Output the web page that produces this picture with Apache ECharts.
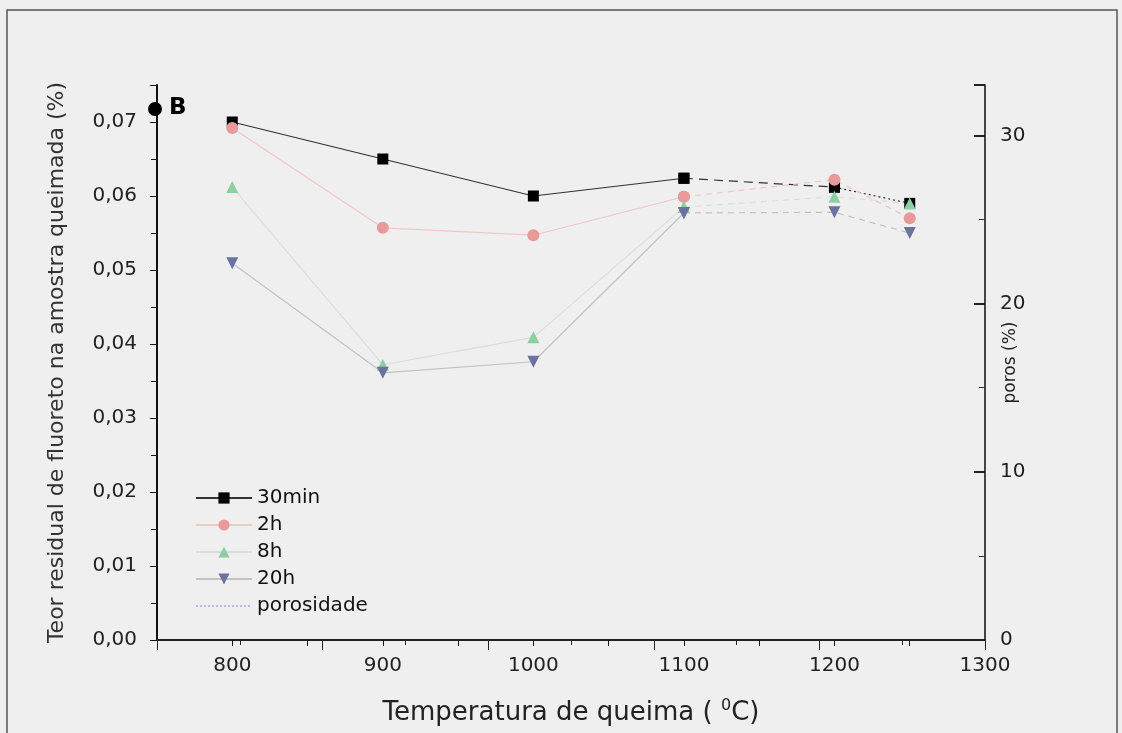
<!DOCTYPE html>
<html>
<head>
<meta charset="utf-8">
<script src="https://cdn.jsdelivr.net/npm/echarts@6/dist/echarts.min.js"></script>
<style>
  html, body { margin: 0; padding: 0; background: #efefef; }
  #chart { width: 1122px; height: 733px; }
</style>
</head>
<body>
<div id="chart"></div>
<script>
// temperatura de queima (°C)
const temps = [800, 900, 1000, 1100, 1200, 1250];
// teor residual de fluoreto (%)
const min30 = [0.0700, 0.0650, 0.0600, 0.0624, 0.0612, 0.0590];
const h2 = [0.0692, 0.0557, 0.0547, 0.0599, 0.0622, 0.0570];
const h8 = [0.0612, 0.0372, 0.0409, 0.0585, 0.0599, 0.0590];
const h20 = [0.0509, 0.0361, 0.0376, 0.0577, 0.0578, 0.0550];
// porosidade (%) - curva nao visivel na figura
const porosidade = [];

const xLabels = [800, 900, 1000, 1100, 1200, 1300];
const leftTicks = [0, 0.01, 0.02, 0.03, 0.04, 0.05, 0.06, 0.07];
const rightTicks = [0, 10, 20, 30];

const FONT = 'DejaVu Sans, Liberation Sans, sans-serif';

function pairs(vals, from, to) {
  return temps.slice(from, to).map((t, i) => [t, vals[from + i]]);
}

// cada curva e feita de trechos (cheio ate 1100, tracejado depois)
function curve(name, vals, sym, rot, markColor, lineColor, segs) {
  return segs.map(s => ({
    name: name,
    type: 'line',
    symbol: sym,
    symbolSize: sym === 'rect' ? 11 : 12,
    symbolRotate: rot,
    itemStyle: { color: markColor },
    lineStyle: { color: lineColor, width: 1.2, type: s[2] },
    data: pairs(vals, s[0], s[1]),
    z: 3
  }));
}

const blackSegs = [[0, 4, 'solid'], [3, 5, [9, 6]], [4, 6, [2, 3]]];
const faintSegs = [[0, 4, 'solid'], [3, 6, [6, 5]]];

let chart = echarts.init(document.getElementById('chart'));

let option = {
  backgroundColor: '#efefef',
  animation: false,
  textStyle: { fontFamily: FONT },
  grid: { left: 157, right: 137, top: 85, bottom: 92 },
  legend: {
    orient: 'vertical',
    left: 190,
    top: 483,
    itemGap: 7,
    itemWidth: 56,
    itemHeight: 14,
    textStyle: { fontSize: 20, lineHeight: 20, color: '#111', fontFamily: FONT },
    data: ['30min', '2h', '8h', '20h', { name: 'porosidade', itemStyle: { opacity: 0 } }]
  },
  xAxis: [
    {
      type: 'value',
      min: 750,
      max: 1300,
      interval: 50,
      name: 'Temperatura de queima ( {sup|0}C)',
      nameLocation: 'middle',
      nameGap: 58,
      nameMoveOverlap: false,
      nameTextStyle: {
        fontSize: 26, color: '#222', fontFamily: FONT, lineHeight: 30,
        rich: {
          sup: { fontSize: 16, color: '#222', fontFamily: FONT, verticalAlign: 'top', lineHeight: 30, padding: [0, 0, 12, 0] }
        }
      },
      axisLine: { lineStyle: { color: '#111', width: 2 } },
      axisTick: { inside: false, length: 6, lineStyle: { color: '#111' } },
      axisLabel: {
        fontSize: 20, color: '#222', margin: 16, showMinLabel: true, showMaxLabel: true,
        formatter: v => (xLabels.indexOf(v) >= 0 ? String(v) : '')
      },
      splitLine: { show: false }
    },
    {
      // moldura superior com marcas proprias
      type: 'value',
      position: 'top',
      min: 0,
      max: 5,
      interval: 1,
      axisLine: { show: true, lineStyle: { color: '#222', width: 2 } },
      axisTick: { inside: true, length: 10, lineStyle: { color: '#222' } },
      minorTick: { show: true, splitNumber: 2, length: 5, lineStyle: { color: '#222' } },
      axisLabel: { show: false },
      splitLine: { show: false }
    }
  ],
  yAxis: [
    {
      type: 'value',
      min: 0,
      max: 0.075,
      interval: 0.01,
      name: 'Teor residual de fluoreto na amostra queimada (%)',
      nameLocation: 'middle',
      nameGap: 89,
      nameRotate: 90,
      nameMoveOverlap: false,
      nameTextStyle: { fontSize: 22, color: '#333', fontFamily: FONT },
      axisLine: { show: true, lineStyle: { color: '#111', width: 2 } },
      axisTick: { inside: false, length: 7, lineStyle: { color: '#111' } },
      minorTick: { show: true, splitNumber: 2, length: 6, lineStyle: { color: '#111' } },
      axisLabel: {
        fontSize: 20, color: '#222', margin: 20, showMaxLabel: false,
        formatter: v => (leftTicks.some(t => Math.abs(t - v) < 1e-9) ? v.toFixed(2).replace('.', ',') : '')
      },
      splitLine: { show: false }
    },
    {
      type: 'value',
      position: 'right',
      min: 0,
      max: 33,
      interval: 10,
      name: 'poros (%)',
      nameLocation: 'middle',
      nameGap: 17,
      nameRotate: 90,
      nameMoveOverlap: false,
      nameTextStyle: { fontSize: 17, color: '#222', fontFamily: FONT },
      axisLine: { show: true, lineStyle: { color: '#444', width: 2 } },
      axisTick: { inside: true, length: 11, lineStyle: { color: '#222', width: 2 } },
      minorTick: { show: true, splitNumber: 2, length: 6, lineStyle: { color: '#333' } },
      axisLabel: {
        fontSize: 20, color: '#222', margin: 15, showMaxLabel: false,
        formatter: v => (rightTicks.indexOf(v) >= 0 ? String(v) : '')
      },
      splitLine: { show: false }
    }
  ],
  graphic: [
    {
      type: 'rect',
      shape: { x: 7, y: 10, width: 1110, height: 740 },
      style: { fill: 'none', stroke: '#555', lineWidth: 1.5 },
      silent: true
    },
    {
      type: 'circle',
      shape: { cx: 155, cy: 109, r: 7 },
      style: { fill: '#000' },
      z: 10
    },
    {
      type: 'text',
      left: 169,
      top: 97,
      style: { text: 'B', fontSize: 23, fontWeight: 'bold', fill: '#000', fontFamily: FONT },
      z: 10
    }
  ],
  series: [].concat(
    curve('30min', min30, 'rect', 0, '#000000', '#333333', blackSegs),
    curve('2h', h2, 'circle', 0, '#e89a9a', '#f0c8c8', faintSegs),
    curve('8h', h8, 'triangle', 0, '#8ccfa3', '#dcdcdc', faintSegs),
    curve('20h', h20, 'triangle', 180, '#6a72a0', '#c2c2c2', faintSegs),
    [{
      name: 'porosidade',
      type: 'line',
      yAxisIndex: 1,
      symbol: 'none',
      data: porosidade,
      lineStyle: { color: '#b8c0e0', width: 1.5, type: 'dotted' },
      itemStyle: { color: '#b8c0e0' }
    }]
  )
};

chart.clear();
chart.setOption(option);
</script>
</body>
</html>
